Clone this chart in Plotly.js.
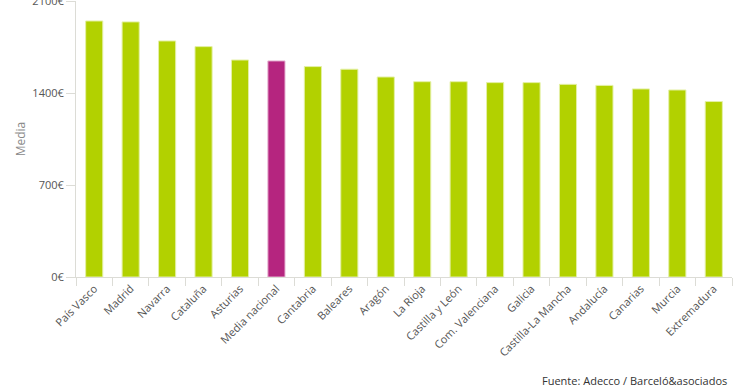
<!DOCTYPE html>
<html>
<head>
<meta charset="utf-8">
<script src="https://cdn.plot.ly/plotly-3.0.1.min.js"></script>
<style>html,body{margin:0;padding:0;background:#fff;}#chart{width:740px;height:389px;}</style>
</head>
<body>
<div id="chart"></div>
<script>
const categories = ["País Vasco","Madrid","Navarra","Cataluña","Asturias","Media nacional","Cantabria","Baleares","Aragón","La Rioja","Castilla y León","Com. Valenciana","Galicia","Castilla-La Mancha","Andalucía","Canarias","Murcia","Extremadura"];
const values = [1948,1941,1796,1753,1651,1644,1601,1581,1522,1486,1486,1479,1479,1466,1458,1431,1423,1335];
const highlight = "Media nacional";
const yTicks = [0,700,1400,2100];
const yTickLabels = ["0€","700€","1400€","2100€"];

const green = "#b2d100", magenta = "#b5257f";
const colors = categories.map(c => c === highlight ? magenta : green);
const lineColors = categories.map(c => c === highlight ? "#e6b3d3" : "#e4f0a6");

const trace = {
  type: "bar",
  x: categories,
  y: values,
  marker: {color: colors, line: {color: lineColors, width: 1}},
  hoverinfo: "x+y"
};

const layout = {
  width: 740, height: 389,
  margin: {l: 76, r: 8, t: 1, b: 112},
  paper_bgcolor: "#fff", plot_bgcolor: "#fff",
  font: {family: "Open Sans, sans-serif", size: 11, color: "#555"},
  bargap: 0.53,
  showlegend: false,
  xaxis: {
    type: "category",
    tickangle: -45,
    showline: true, linecolor: "#dcdcd6", linewidth: 1,
    ticks: "outside", ticklen: 8, tickcolor: "#dcdcd6", tickson: "boundaries",
    showgrid: false,
    tickfont: {size: 11, color: "#555"}
  },
  yaxis: {
    range: [0, 2100],
    tickvals: yTicks, ticktext: yTickLabels,
    ticklabeloverflow: "allow",
    showline: true, linecolor: "#dcdcd6", linewidth: 1,
    ticks: "outside", ticklen: 9, tickcolor: "#dcdcd6",
    showgrid: false, zeroline: false,
    tickfont: {size: 11, color: "#555"},
    title: {text: "Media", font: {size: 12, color: "#888"}, standoff: 4}
  },
  annotations: [{
    text: "Fuente: Adecco / Barceló&asociados",
    xref: "paper", yref: "paper",
    x: 0.996, y: -0.375, xanchor: "right", yanchor: "middle",
    showarrow: false,
    font: {size: 11, color: "#333"}
  }]
};

Plotly.newPlot("chart", [trace], layout, {displayModeBar: false, staticPlot: true});
</script>
</body>
</html>
